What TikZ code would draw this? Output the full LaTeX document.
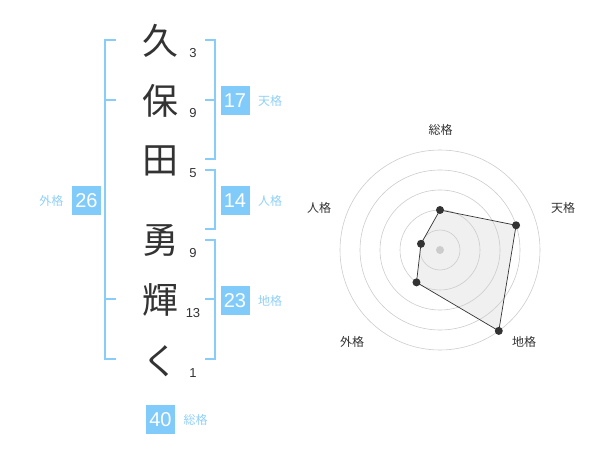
\documentclass[tikz,border=0pt]{standalone}
\usepackage{fontspec}
\usetikzlibrary{positioning,calc}
\setmainfont{Liberation Sans}
\newfontfamily\cjk{Noto Sans CJK JP}
\definecolor{boxblue}{HTML}{80CBFA}
\definecolor{lineblue}{HTML}{88CCF8}
\definecolor{labelblue}{HTML}{90D0F8}
\definecolor{ringgray}{HTML}{CCCCCC}
\definecolor{inkgray}{HTML}{333333}

\tikzset{
  kanji/.style={font=\cjk\fontsize{36}{36}\selectfont, text=inkgray},
  strokes/.style={font=\fontsize{13}{13}\selectfont, text=inkgray},
  scorebox/.style={fill=boxblue, text=white, minimum size=29pt, inner sep=0pt,
    font=\fontsize{20}{20}\selectfont},
  scorelabel/.style={text=labelblue, font=\cjk\fontsize{12}{12}\selectfont},
  bracket/.style={draw=lineblue, line width=2pt},
  ring/.style={draw=ringgray, line width=0.6pt},
  dot/.style={circle, fill=inkgray, inner sep=0pt, minimum size=8pt},
  axislabel/.style={font=\cjk\fontsize{12}{12}\selectfont, text=inkgray}
}

\begin{document}
\begin{tikzpicture}[x=1pt, y=-1pt]
  \useasboundingbox (0,0) rectangle (600,470);

  % Name, one character per row
  \node[kanji] (k1) at (160,41) {久};
  \node[kanji] (k2) at (160,101) {保};
  \node[kanji] (k3) at (160,161) {田};
  \node[kanji] (k4) at (160,240) {勇};
  \node[kanji] (k5) at (160,300) {輝};
  \node[kanji] (k6) at (160,361) {く};

  % Stroke counts
  \node[strokes] (s1) at (193,53) {3};
  \node[strokes] (s2) at (193,113) {9};
  \node[strokes] (s3) at (193,173) {5};
  \node[strokes] (s4) at (193,253) {9};
  \node[strokes] (s5) at (193,313) {13};
  \node[strokes] (s6) at (193,373) {1};

  % Brackets
  \draw[bracket] (116,40) -- (105,40) -- (105,359) -- (116,359)
    (105,100) -- (116,100) (105,299) -- (116,299); % outer
  \draw[bracket] (205,40) -- (215,40) -- (215,159) -- (205,159)
    (205,100) -- (215,100); % heaven
  \draw[bracket] (205,170) -- (215,170) -- (215,229) -- (205,229); % person
  \draw[bracket] (205,240) -- (215,240) -- (215,359) -- (205,359)
    (205,299) -- (215,299); % earth

  % Scores
  \node[scorebox] (ten) at (235,100.5) {17};
  \node[scorelabel, right=5pt of ten] (tenl) {天格};
  \node[scorebox] (jin) at (235,200.5) {14};
  \node[scorelabel, right=5pt of jin] (jinl) {人格};
  \node[scorebox] (chi) at (235,300.5) {23};
  \node[scorelabel, right=5pt of chi] (chil) {地格};
  \node[scorebox] (gai) at (86.5,200.5) {26};
  \node[scorelabel, left=5pt of gai] (gail) {外格};
  \node[scorebox] (sou) at (160.5,419.5) {40};
  \node[scorelabel, right=5pt of sou] (soul) {総格};

  % Radar chart
  \coordinate (c) at (440,250);
  \coordinate (p1) at ($(c)+(-90:40)$);
  \coordinate (p2) at ($(c)+(-18:80)$);
  \coordinate (p3) at ($(c)+(54:100)$);
  \coordinate (p4) at ($(c)+(126:40)$);
  \coordinate (p5) at ($(c)+(198:20)$);
  \fill[black!6] (p1) -- (p2) -- (p3) -- (p4) -- (p5) -- cycle;

  \foreach \r in {20,40,...,100}
    \draw[ring] (c) circle (\r);
  \fill[ringgray] (c) circle (4);

  \draw[draw=inkgray, line width=0.7pt]
    (p1) -- (p2) -- (p3) -- (p4) -- (p5) -- cycle;
  \foreach \p in {p1,p2,p3,p4,p5}
    \node[dot] at (\p) {};

  \node[axislabel] (a1) at (440.5,130) {総格};
  \node[axislabel] (a2) at (563,208) {天格};
  \node[axislabel] (a3) at (524,342) {地格};
  \node[axislabel] (a4) at (352,342) {外格};
  \node[axislabel] (a5) at (319,208) {人格};

\end{tikzpicture}
\end{document}
